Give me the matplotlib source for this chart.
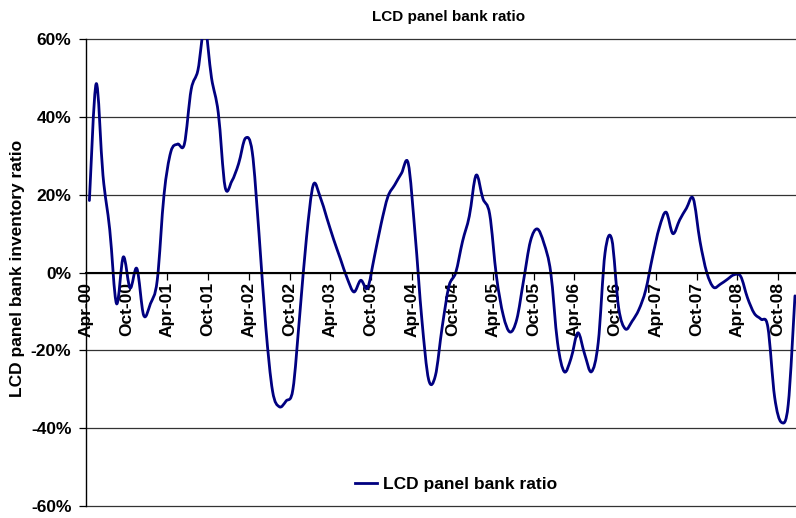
import numpy as np
import matplotlib
matplotlib.use('Agg')
import matplotlib.pyplot as plt
from matplotlib.path import Path
from matplotlib.patches import PathPatch
from matplotlib.lines import Line2D

plt.rcParams['font.family'] = ['Liberation Sans', 'DejaVu Sans']
plt.rcParams['font.weight'] = 'bold'

# monthly LCD panel bank ratio (%), Apr-00 .. Dec-08
ratio = [18.5, 48.5, 25, 11, -8, 4, -4, 1, -11, -8,
         -2, 20, 31, 33, 33, 47, 52, 63, 50, 41,
         22, 23.5, 28, 34.5, 31, 10, -14, -30.5, -34.5, -33,
         -30, -11, 9, 22.5, 19.5, 14, 8.5, 3.5, -1.5, -5,
         -2, -4, 4, 12.5, 19.5, 22.5, 25.5, 28, 10, -12,
         -27.5, -26.5, -14, -3.5, 0, 8, 14.5, 25, 19, 15,
         -1, -11, -15.3, -12, -2, 8, 11.2, 7.5, 0, -18,
         -25.5, -22, -15.5, -21, -25.5, -18, 5, 8.5, -9, -14.5,
         -12.5, -9.5, -4.5, 4, 11.5, 15.5, 10, 13.5, 16.5, 19,
         8, 0, -3.8, -3, -1.8, -0.6, -1, -6.5, -10.5, -12,
         -14, -32, -38.5, -34, -6]

tick_labels = ['Apr-00', 'Oct-00', 'Apr-01', 'Oct-01', 'Apr-02', 'Oct-02',
               'Apr-03', 'Oct-03', 'Apr-04', 'Oct-04', 'Apr-05', 'Oct-05',
               'Apr-06', 'Oct-06', 'Apr-07', 'Oct-07', 'Apr-08', 'Oct-08']
y_ticks = [-60, -40, -20, 0, 20, 40, 60]

LINE_COLOR = '#000080'


def smooth_path(xs, ys):
    """Bezier path through the points, like a spreadsheet 'smoothed line'"""
    pts = np.column_stack([xs, ys])
    verts = [pts[0]]
    codes = [Path.MOVETO]
    n = len(pts)
    for i in range(n - 1):
        p0 = pts[i - 1] if i > 0 else pts[i]
        p1 = pts[i]
        p2 = pts[i + 1]
        p3 = pts[i + 2] if i + 2 < n else pts[i + 1]
        c1 = p1 + (p2 - p0) / 6.0
        c2 = p2 - (p3 - p1) / 6.0
        verts += [c1, c2, p2]
        codes += [Path.CURVE4] * 3
    return Path(verts, codes)


W, H = 796, 518
fig = plt.figure(figsize=(W / 100, H / 100), dpi=100)
ax = fig.add_axes([86 / W, 1 - 506 / H, (W - 86) / W, 467 / H])

# points sit mid-month on a month axis starting at Apr-00
x = np.arange(len(ratio)) + 0.5
ax.add_patch(PathPatch(smooth_path(x, np.array(ratio, dtype=float)),
                       facecolor='none', edgecolor=LINE_COLOR, lw=2,
                       capstyle='round', joinstyle='round'))

ax.set_xlim(0, 104.65)
ax.set_ylim(-60, 60)

ax.set_yticks(y_ticks)
ax.set_yticklabels([f'{v}%' for v in y_ticks])
ax.yaxis.grid(True, color='#333333', lw=0.9)
for gl in ax.get_ygridlines():
    gl.set_clip_on(False)
ax.set_axisbelow(True)
ax.tick_params(axis='y', direction='out', length=5, width=0.9, pad=5.5,
               labelsize=12.5)

ax.set_xticks(np.arange(0, 6 * len(tick_labels), 6))
ax.set_xticklabels(tick_labels)
ax.tick_params(axis='x', direction='out', length=5, width=0.9, pad=2,
               labelrotation=90, labelsize=12.5)
for lab in ax.get_xticklabels():
    lab.set_va('top')
    lab.set_ha('center')
    lab.set_fontweight('bold')

ax.spines['bottom'].set_position(('data', 0))
ax.spines['bottom'].set_linewidth(1.5)
ax.spines['left'].set_linewidth(1)
ax.spines['top'].set_visible(False)
ax.spines['right'].set_visible(False)

fig.text(449 / W, 1 - 17 / H, 'LCD panel bank ratio', ha='center', va='center',
         fontsize=11, fontweight='bold')
fig.text(18 / W, 1 - 268 / H, 'LCD panel bank inventory ratio', rotation=90,
         ha='center', va='center', fontsize=12.5, fontweight='bold')

handle = Line2D([], [], color=LINE_COLOR, lw=2)
ax.legend([handle], ['LCD panel bank ratio'], loc='center',
          bbox_to_anchor=(0.521, 0.047), frameon=False,
          prop={'weight': 'bold', 'size': 12.5}, handlelength=1.3,
          handletextpad=0.35)

fig.savefig('out.png', dpi=100)
